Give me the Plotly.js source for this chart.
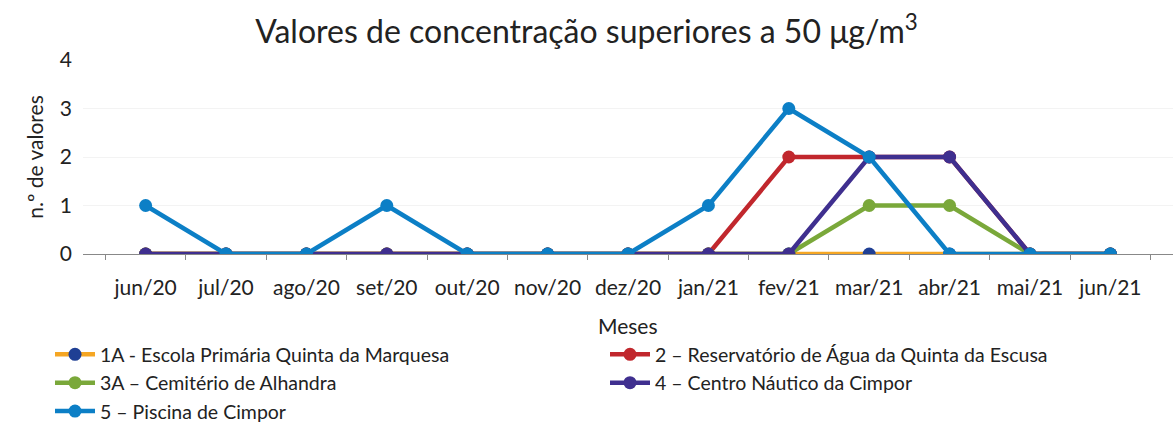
<!DOCTYPE html>
<html><head><meta charset="utf-8">
<script src="https://cdn.plot.ly/plotly-3.0.1.min.js"></script>
<style>body{margin:0;background:#fff}#c{width:1173px;height:427px}</style>
</head><body><div id="c"></div>
<script>
const months = ["jun/20","jul/20","ago/20","set/20","out/20","nov/20","dez/20","jan/21","fev/21","mar/21","abr/21","mai/21","jun/21"];
const s1A = [0,0,0,0,0,0,0,0,0,0,0,0,0];
const s2  = [0,0,0,0,0,0,0,0,2,2,2,0,0];
const s3A = [0,0,0,0,0,0,0,0,0,1,1,0,0];
const s4  = [0,0,0,0,0,0,0,0,0,2,2,0,0];
const s5  = [1,0,0,1,0,0,0,1,3,2,0,0,0];
const names = ["1A - Escola Primária Quinta da Marquesa","2 – Reservatório de Água da Quinta da Escusa","3A – Cemitério de Alhandra","4 – Centro Náutico da Cimpor","5 – Piscina de Cimpor"];
const series = [s1A,s2,s3A,s4,s5];
const lineColors = ["#f5a623","#c1272d","#7aa83a","#3f2f8f","#0c7fc6"];
const markerColors = ["#1f3f94","#c1272d","#7aa83a","#3f2f8f","#0c7fc6"];
const legendOf = ["legend","legend2","legend","legend2","legend"];
const traces = series.map((y,i)=>({
  x: months, y: y, type:"scatter", mode:"lines+markers", name: names[i],
  legend: legendOf[i],
  line:{color:lineColors[i], width:4.5},
  marker:{color:markerColors[i], size:13}
}));
const font = "Lato, 'Open Sans', sans-serif";
const legBase = {orientation:"v", yref:"container", y:0.215, yanchor:"top", xanchor:"left",
  font:{size:19.5, color:"#222"}, traceorder:"normal", bgcolor:"rgba(0,0,0,0)", itemwidth:40};
Plotly.newPlot("c", traces, {
  width:1173, height:427,
  margin:{l:83, r:0, t:60, b:173, autoexpand:false},
  paper_bgcolor:"#fff", plot_bgcolor:"#fff",
  font:{family:font, color:"#222", size:21},
  title:{text:"Valores de concentração superiores a 50 μg/m<sup>3</sup>", x:0.5, xanchor:"center", yref:"container", y:0.925, yanchor:"middle", font:{size:32, family:font, color:"#222"}},
  xaxis:{type:"category", showgrid:false, showline:true, linecolor:"#888", linewidth:1, ticks:"outside", tickson:"boundaries", ticklen:5, tickcolor:"#888",
    tickangle:0, ticklabelstandoff:15, tickfont:{size:21}, automargin:false, zeroline:false},
  yaxis:{range:[0,4], dtick:1, showgrid:true, gridcolor:"#f3f3f3", zeroline:false, showline:false, ticks:"", ticklabelstandoff:10,
    tickfont:{size:21}, title:{text:"n.º de valores", standoff:10, font:{size:21}}, automargin:false},
  annotations:[{text:"Meses", xref:"paper", yref:"paper", x:0.5, y:(254-325)/194, xanchor:"center", yanchor:"middle", showarrow:false, font:{size:21, family:font, color:"#222"}}],
  showlegend:true,
  legend:Object.assign({}, legBase, {x:(50-83)/1090}),
  legend2:Object.assign({}, legBase, {x:(605-83)/1090})
}, {displayModeBar:false, staticPlot:true});
</script></body></html>
